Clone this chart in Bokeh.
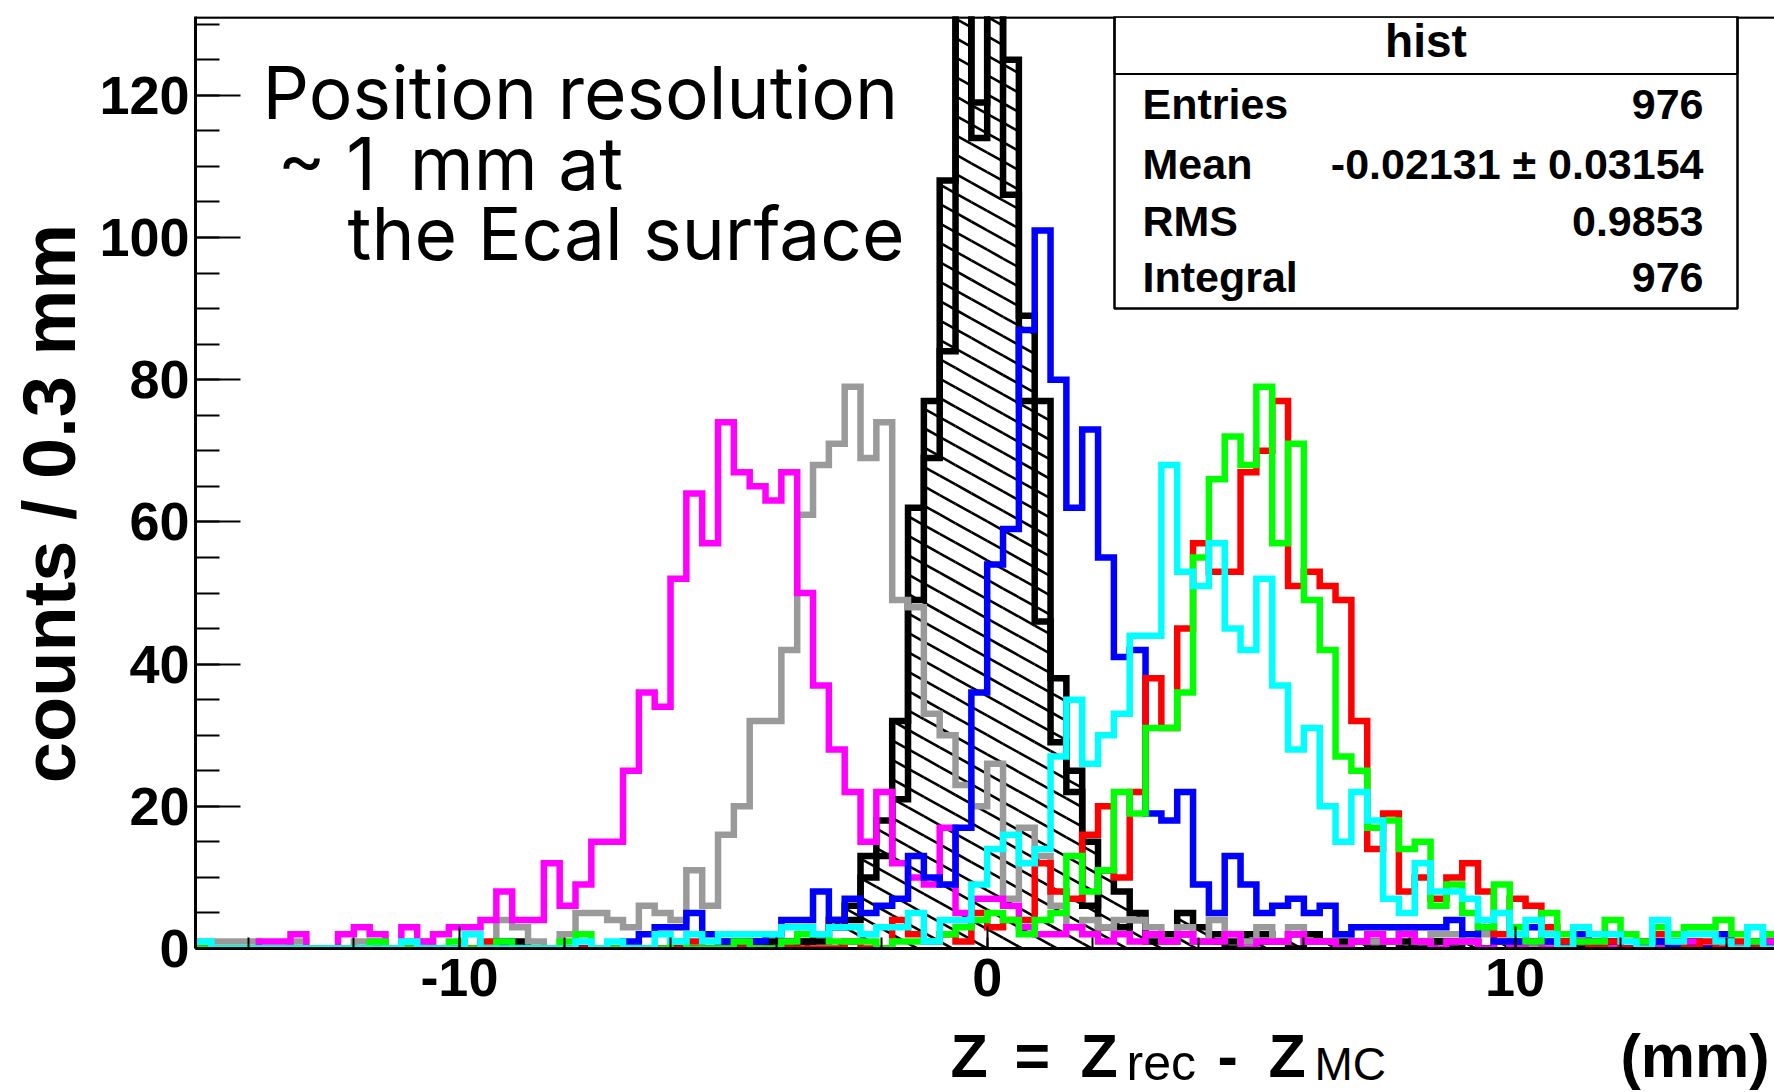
import math
from bokeh.plotting import figure
from bokeh.layouts import row, column
from bokeh.models import Range1d, SingleIntervalTicker, Label, BoxAnnotation, Span
from bokeh.embed import file_html
from bokeh.resources import INLINE

# ---------------- data (100 bins of 0.3 mm from -15 to 15) ----------------
BIN_LO = -15.0
BIN_W = 0.3
N_BINS = 100

black_a = [0, 0, 0, 0, 0, 0, 0, 0, 0, 0, 0, 0, 0, 0, 0, 0, 0, 0, 0, 0,
           1, 0, 0, 0, 0, 0, 0, 0, 0, 0, 0, 0, 0, 1, 1, 1, 0, 1, 1, 1,
           3, 6, 13, 13, 32, 49, 69, 84, 136, 114, 138, 106, 89, 46, 29, 22, 15, 3, 3, 4,
           2, 1, 2, 1, 1, 0, 1, 1, 1, 0, 1, 1, 0, 1, 0, 1, 0, 1, 1, 0,
           1, 0, 1, 0, 1, 1, 0, 1, 0, 1, 0, 0, 1, 0, 1, 0, 1, 0, 1, 0]
black_b = [0, 0, 0, 0, 0, 0, 0, 0, 0, 0, 0, 0, 0, 0, 0, 0, 0, 0, 0, 0,
           0, 0, 0, 0, 0, 0, 0, 0, 0, 0, 0, 0, 0, 0, 0, 1, 1, 0, 1, 2,
           4, 4, 10, 18, 21, 62, 77, 108, 140, 119, 134, 125, 77, 77, 38, 25, 6, 11, 8, 5,
           1, 2, 5, 3, 2, 1, 2, 2, 1, 2, 2, 1, 1, 1, 1, 1, 1, 0, 1, 1,
           1, 0, 1, 1, 0, 1, 1, 0, 1, 1, 0, 1, 0, 1, 1, 0, 1, 0, 1, 1]
gray = [1, 1, 1, 1, 0, 0, 1, 0, 0, 0, 1, 1, 0, 1, 1, 0, 0, 0, 0, 4,
        3, 1, 0, 2, 5, 5, 4, 3, 6, 5, 4, 11, 6, 16, 20, 32, 32, 42, 61, 68,
        71, 79, 69, 74, 49, 48, 33, 30, 23, 20, 26, 7, 17, 13, 6, 3, 4, 3, 4, 4,
        3, 1, 3, 1, 4, 2, 1, 3, 1, 3, 1, 1, 2, 1, 1, 1, 3, 1, 2, 2,
        1, 2, 1, 0, 0, 1, 0, 1, 0, 0, 0, 1, 0, 0, 0, 0, 1, 0, 0, 0]
magenta = [0, 0, 0, 0, 1, 1, 2, 0, 0, 2, 3, 2, 0, 3, 1, 2, 3, 3, 4, 8,
           4, 4, 12, 6, 9, 15, 15, 25, 36, 34, 52, 64, 57, 74, 67, 65, 63, 67, 50, 37,
           28, 22, 15, 22, 12, 10, 9, 17, 5, 7, 7, 6, 3, 2, 2, 3, 2, 1, 2, 1,
           2, 1, 2, 1, 1, 2, 0, 1, 1, 2, 1, 1, 0, 1, 2, 1, 2, 1, 0, 1,
           1, 0, 1, 0, 1, 0, 0, 1, 0, 0, 0, 0, 0, 1, 1, 0, 1, 0, 1, 1]
blue = [0, 0, 0, 0, 0, 0, 0, 0, 0, 0, 0, 0, 0, 0, 0, 0, 0, 0, 0, 1,
        0, 0, 0, 0, 0, 0, 0, 1, 2, 3, 3, 5, 2, 1, 0, 1, 2, 4, 4, 8,
        4, 7, 5, 6, 7, 13, 10, 9, 17, 36, 54, 59, 87, 101, 80, 62, 73, 55, 41, 42,
        19, 18, 22, 9, 5, 13, 9, 5, 6, 7, 5, 6, 2, 3, 3, 3, 3, 3, 3, 4,
        2, 3, 1, 1, 3, 1, 0, 2, 0, 1, 0, 0, 1, 0, 0, 0, 2, 0, 0, 0]
red = [0, 0, 0, 0, 0, 0, 0, 0, 0, 0, 0, 0, 0, 0, 0, 0, 0, 0, 1, 0,
       0, 0, 0, 0, 0, 0, 0, 0, 0, 0, 0, 1, 0, 0, 0, 0, 0, 0, 0, 0,
       0, 1, 0, 0, 4, 2, 1, 2, 1, 5, 3, 4, 4, 12, 8, 7, 16, 20, 10, 22,
       38, 31, 45, 57, 53, 53, 67, 70, 77, 51, 53, 51, 49, 32, 14, 19, 8, 10, 7, 10,
       12, 8, 2, 7, 6, 3, 1, 1, 0, 1, 0, 1, 2, 1, 0, 1, 0, 1, 0, 2]
green = [0, 0, 0, 0, 0, 0, 0, 0, 0, 0, 0, 1, 0, 0, 0, 0, 1, 0, 0, 1,
         0, 0, 0, 1, 2, 0, 0, 0, 0, 0, 1, 0, 0, 0, 1, 0, 0, 1, 2, 2,
         1, 1, 1, 0, 1, 1, 1, 2, 3, 4, 5, 4, 2, 4, 5, 13, 8, 11, 22, 19,
         31, 31, 36, 55, 66, 72, 68, 79, 57, 71, 49, 42, 27, 25, 17, 18, 14, 15, 6, 9,
         5, 3, 9, 3, 1, 5, 2, 1, 1, 4, 2, 1, 3, 2, 3, 3, 4, 2, 1, 2]
cyan = [1, 0, 0, 0, 0, 0, 0, 0, 0, 0, 0, 0, 0, 1, 0, 0, 0, 2, 0, 0,
        0, 0, 0, 0, 1, 0, 1, 0, 0, 2, 1, 2, 1, 2, 2, 2, 2, 3, 3, 2,
        3, 3, 2, 3, 3, 5, 1, 4, 4, 9, 14, 16, 12, 14, 27, 35, 26, 30, 33, 44,
        44, 68, 53, 51, 57, 45, 42, 52, 37, 28, 31, 20, 15, 22, 18, 7, 5, 12, 8, 8,
        7, 4, 5, 2, 4, 2, 0, 3, 2, 2, 1, 0, 4, 1, 2, 2, 1, 0, 3, 0]

for _s in (black_a, black_b, gray, magenta, blue, red, green, cyan):
    assert len(_s) == N_BINS

x_ticks_interval = 10
y_ticks_interval = 20
x_tick_labels = {-10: "-10", 0: "0", 10: "10"}

stats_title = "hist"
stats_names = ["Entries", "Mean", "RMS", "Integral"]
stats_values = ["976", "-0.02131 \u00b1 0.03154", "0.9853", "976"]

note_lines = ["Position resolution", "~ 1\u2009 mm at", "the Ecal surface"]
y_title = "counts / 0.3 mm"

edges = [BIN_LO + BIN_W * i for i in range(N_BINS + 1)]

# ---------------- geometry (page pixels; page origin = canvas origin) ----------------
TOTAL_W, TOTAL_H = 1774, 1092
LEFT_W = 96                    # strip holding the y title
MAIN_H = 1019                  # main figure height
FRAME_L, FRAME_T, FRAME_B = 195, 16, 948
SX, SY = 52.78, 7.11
MAIN_W = TOTAL_W - LEFT_W
X_END = -15 + (TOTAL_W - FRAME_L) / SX
Y_END = (FRAME_B - FRAME_T) / SY
BASE_K = 0.40                  # baseline correction (fraction of font size)


def dx(px):
    return -15 + (px - FRAME_L) / SX


def dy(py):
    return (FRAME_B - py) / SY


p = figure(width=MAIN_W, height=MAIN_H, x_range=Range1d(-15, X_END), y_range=Range1d(0, Y_END),
           output_backend="svg", toolbar_location=None,
           min_border_left=FRAME_L - LEFT_W, min_border_right=0, min_border_top=FRAME_T,
           min_border_bottom=MAIN_H - FRAME_B)
p.xgrid.visible = False
p.ygrid.visible = False
p.outline_line_color = None
p.background_fill_color = "white"
p.border_fill_color = "white"

p.xaxis.ticker = SingleIntervalTicker(interval=x_ticks_interval, num_minor_ticks=5)
p.yaxis.ticker = SingleIntervalTicker(interval=y_ticks_interval, num_minor_ticks=4)
p.xaxis.major_label_overrides = x_tick_labels
for ax in (p.xaxis, p.yaxis):
    ax.axis_line_width = 3
    ax.major_tick_out = 0
    ax.minor_tick_out = 0
    ax.major_tick_line_width = 2
    ax.minor_tick_line_width = 2
    ax.major_label_text_font = "Liberation Sans"
    ax.major_label_text_font_style = "bold"
    ax.major_label_text_font_size = "54px"
    ax.major_label_text_color = "black"
p.yaxis.major_tick_in = 45
p.yaxis.minor_tick_in = 24
p.yaxis.major_label_standoff = 6
p.xaxis.major_tick_in = 22
p.xaxis.minor_tick_in = 11
p.xaxis.major_label_standoff = 10

# top frame line
p.add_layout(Span(location=Y_END - 0.15, dimension="width", line_color="black", line_width=2.5))

# ---------------- hatch for black histograms ----------------
S_H, D_H = 4.13, 2.73


def hatch(tops, ymax):
    x0s, y0s, x1s, y1s = [], [], [], []
    for i, T in enumerate(tops):
        if T <= 0:
            continue
        T = min(T, ymax)
        xl, xr = edges[i], edges[i + 1]
        n0 = math.ceil(S_H * xl / D_H)
        n1 = math.floor((T + S_H * xr) / D_H)
        for n in range(n0, n1 + 1):
            c = n * D_H
            xa = max(xl, (c - T) / S_H)
            xb = min(xr, c / S_H)
            if xb - xa > 1e-9:
                x0s.append(xa); y0s.append(c - S_H * xa)
                x1s.append(xb); y1s.append(c - S_H * xb)
    return x0s, y0s, x1s, y1s


union = [max(a, b) for a, b in zip(black_a, black_b)]
hx0, hy0, hx1, hy1 = hatch(union, Y_END + 2)
p.segment(x0=hx0, y0=hy0, x1=hx1, y1=hy1, line_color="black", line_width=2.6)


def draw(vals, color, lw=6.5):
    p.step(x=edges, y=list(vals) + [vals[-1]], mode="after", line_color=color,
           line_width=lw, line_join="miter")


draw(black_a, "black")
draw(black_b, "black")
draw(gray, "#9a9a9a")
draw(magenta, "#ff00ff")
draw(blue, "#0000ff")
draw(red, "#ff0000")
draw(green, "#00ff00")
draw(cyan, "#00ffff")


def main_label(txt, px, py, size, style="bold", font="Liberation Sans", align="left"):
    p.add_layout(Label(x=dx(px), y=dy(py - BASE_K * size), text=txt, text_align=align,
                       text_baseline="alphabetic", text_font=font,
                       text_font_style=style, text_font_size=f"{size}px", text_color="black"))


# ---------------- stats box ----------------
bl, br, bb = dx(1114), dx(1737), dy(308)
sep = dy(73.5)
p.add_layout(BoxAnnotation(left=bl, right=br, top=Y_END, bottom=bb, fill_color="white",
                           fill_alpha=1.0, line_color="black", line_alpha=1.0, line_width=2.5))
p.add_layout(BoxAnnotation(left=bl, right=br, top=Y_END, bottom=sep, fill_alpha=0.0,
                           line_color="black", line_alpha=1.0, line_width=2.0))
main_label(stats_title, (1114 + 1737) / 2, 59, 46, align="center")
for i, (nm, vv) in enumerate(zip(stats_names, stats_values)):
    base = [121, 181, 238, 294][i]
    main_label(nm, 1142, base, 43)
    main_label(vv, 1703, base, 43, align="right")

# ---------------- annotation ----------------
for txt, px, py in zip(note_lines, [262, 277, 347], [121, 192, 262]):
    main_label(txt, px, py, 73, style="normal", font="Inter")

# ---------------- y title strip ----------------
r = figure(width=LEFT_W, height=TOTAL_H, x_range=Range1d(0, LEFT_W), y_range=Range1d(TOTAL_H, 0),
           output_backend="svg", toolbar_location=None, min_border=0,
           x_axis_location=None, y_axis_location=None)
r.grid.visible = False
r.outline_line_color = None
r.add_layout(Label(x=79 - BASE_K * 74, y=503, text=y_title, angle=math.pi / 2,
                   text_align="center", text_baseline="alphabetic", text_font="Liberation Sans",
                   text_font_style="bold", text_font_size="74px", text_color="black"))

# ---------------- x title strip (frame aligned with the main frame) ----------------
q = figure(width=MAIN_W, height=TOTAL_H - MAIN_H, x_range=Range1d(FRAME_L, TOTAL_W),
           y_range=Range1d(TOTAL_H, MAIN_H), output_backend="svg", toolbar_location=None,
           min_border_left=FRAME_L - LEFT_W, min_border_right=0, min_border_top=0,
           min_border_bottom=0, x_axis_location=None, y_axis_location=None)
q.grid.visible = False
q.outline_line_color = None
xt = [("Z", 950, "bold", 61, 1080), ("=", 1014, "bold", 61, 1080),
      ("Z", 1080, "bold", 61, 1080), ("rec", 1126, "normal", 50, 1082),
      ("-", 1217, "bold", 61, 1080), ("Z", 1268, "bold", 61, 1080),
      ("MC", 1314, "normal", 46, 1082), ("(mm)", 1620, "bold", 61, 1080)]
for txt, px, st, sz, py in xt:
    q.add_layout(Label(x=px, y=py - BASE_K * sz, text=txt, text_align="left",
                       text_baseline="alphabetic", text_font="Liberation Sans",
                       text_font_style=st, text_font_size=f"{sz}px", text_color="black"))

layout = row(r, column(p, q))
open("out.html", "w").write(file_html(layout, INLINE))
